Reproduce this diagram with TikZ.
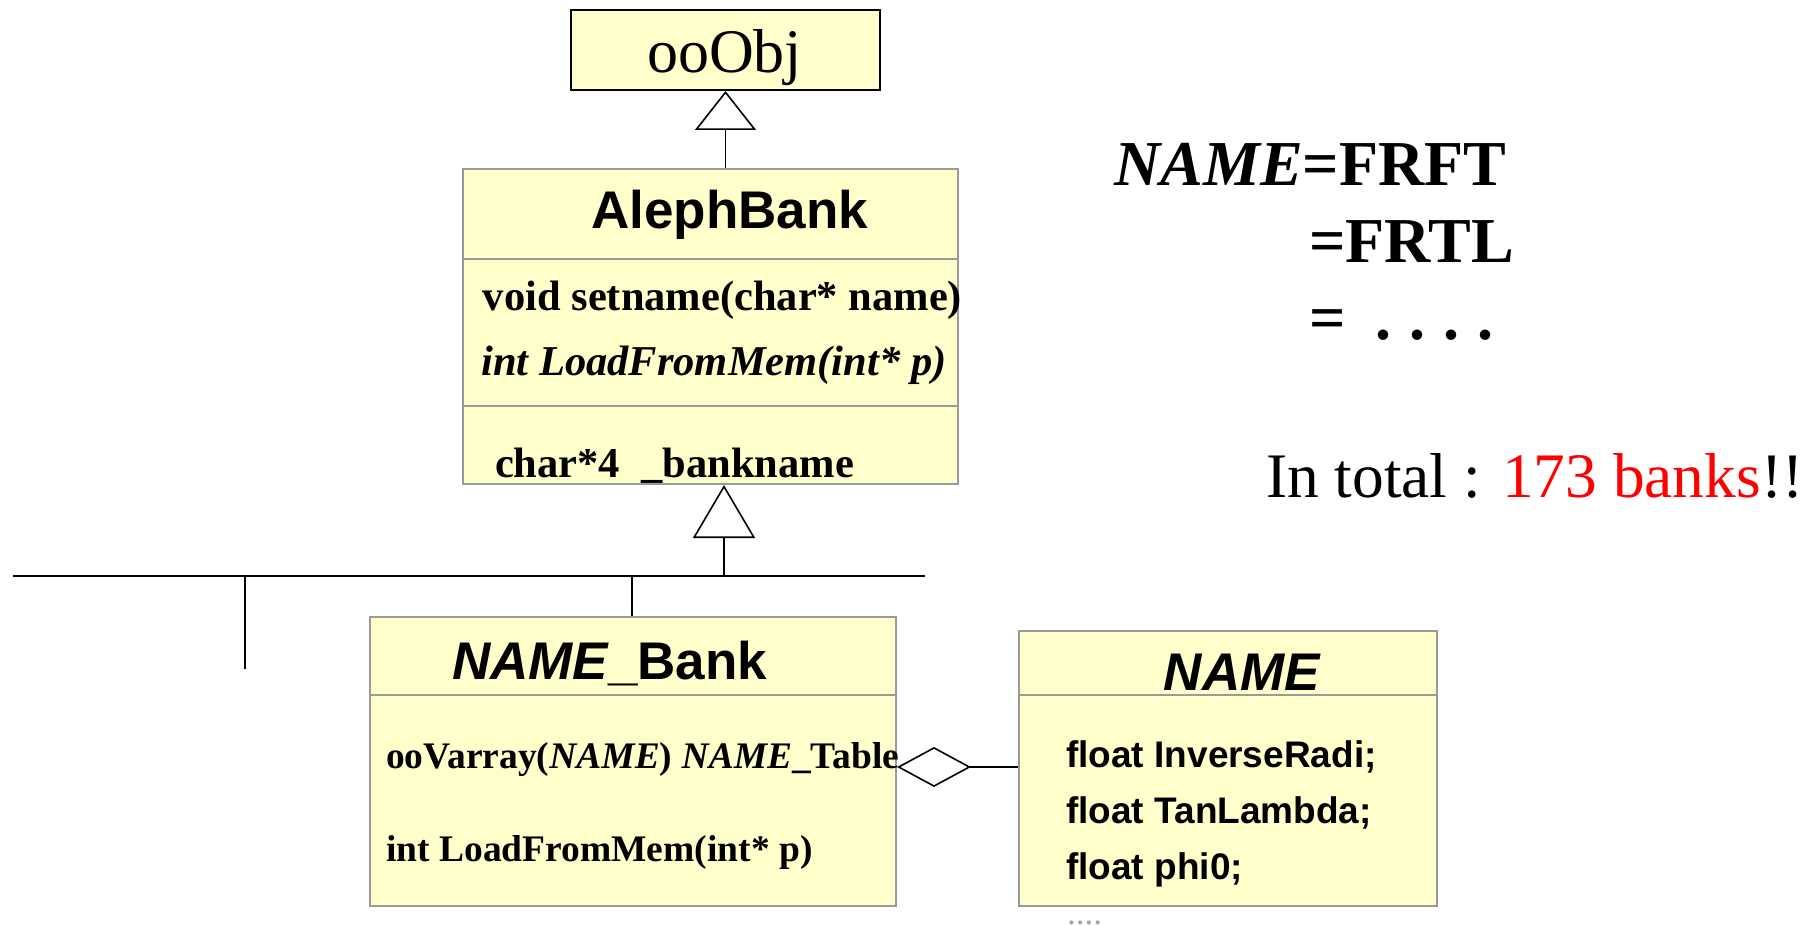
\documentclass[tikz,border=0pt]{standalone}
\usepackage{fontspec}
\setmainfont{Liberation Serif}
\setsansfont{Liberation Sans}
\usetikzlibrary{arrows.meta}
\definecolor{boxfill}{HTML}{FFFFCC}
\definecolor{boxline}{HTML}{9A9A9A}
\begin{document}
\begin{tikzpicture}[x=1pt,y=-1pt,
  umlbox/.style={draw=boxline, fill=boxfill, line width=2pt, inner sep=0pt, anchor=north west},
  rootbox/.style={umlbox, draw=black},
  sep/.style={draw=boxline, line width=2pt},
  conn/.style={draw=black, line width=1.6pt},
  bus/.style={draw=black, line width=2.6pt},
  txt/.style={inner sep=0pt, anchor=base west},
  ctxt/.style={inner sep=0pt, anchor=base},
  big/.style={font=\fontsize{62}{70}\selectfont},
  title/.style={font=\sffamily\bfseries\fontsize{53}{60}\selectfont},
  member/.style={font=\bfseries\fontsize{42.5}{48}\selectfont},
  smember/.style={font=\bfseries\fontsize{37.5}{43}\selectfont},
  field/.style={font=\sffamily\bfseries\fontsize{37}{43}\selectfont},
  note/.style={font=\bfseries\fontsize{64}{72}\selectfont},
  total/.style={font=\fontsize{63.4}{72}\selectfont}]
\useasboundingbox (0,0) rectangle (1820,925);

% class boxes
\node[rootbox, minimum width=309pt, minimum height=80pt] (oo) at (570,9) {};
\node[umlbox, minimum width=495pt, minimum height=315pt] (ab) at (462,168) {};
\node[umlbox, minimum width=526pt, minimum height=289pt] (nb) at (369,616) {};
\node[umlbox, minimum width=418pt, minimum height=275pt] (nm) at (1018,630) {};

% compartment separators
\draw[sep] (ab.west |- 0,259) -- (ab.east |- 0,259);
\draw[sep] (ab.west |- 0,406) -- (ab.east |- 0,406);
\draw[sep] (nb.west |- 0,695) -- (nb.east |- 0,695);
\draw[sep] (nm.west |- 0,695) -- (nm.east |- 0,695);

% inheritance tree
\coordinate (busL) at (13,576);
\coordinate (busR) at (925,576);
\coordinate (up) at (724,576);
\coordinate (down) at (632,576);
\coordinate (other) at (245,576);
\coordinate (otherEnd) at (245,669);
\draw[bus] (busL) -- (busR);
\draw[conn] (other) -- (otherEnd);
\draw[conn] (down) -- (down |- nb.north);
\draw[conn, -{Triangle[fill=white, length=53pt, width=62pt]}] (up) -- (up |- ab.south);
\draw[conn, -{Triangle[fill=white, length=39pt, width=61pt]}] (oo.south |- ab.north) -- (oo.south);

% aggregation
\coordinate (aggy) at (0,767);
\draw[conn, {Diamond[fill=white, length=74pt, width=40pt]}-] (nb.east |- aggy) -- (nm.west |- aggy);

% class texts
\node[ctxt, big] (ooT) at (724.5,73) {ooObj};
\node[ctxt, title] (abT) at (729.6,229) {AlephBank};
\node[txt, member] (abM1) at (482.7,310) {void setname(char* name)};
\node[txt, member] (abM2) at (481,375) {\itshape int LoadFromMem(int* p)};
\node[txt, member] (abF1) at (494.8,477) {char*4\ \ \_bankname};

\node[txt, title] (nbT) at (452,679) {\itshape NAME\upshape\_Bank};
\node[txt, smember] (nbM1) at (386,768) {ooVarray(\textit{NAME}) \textit{NAME}\_Table};
\node[txt, smember] (nbM2) at (386,861) {int LoadFromMem(int* p)};

\node[ctxt, title] (nmT) at (1242,690) {\itshape NAME};
\node[txt, field] (nmF1) at (1066,767) {float InverseRadi;};
\node[txt, field] (nmF2) at (1066,823) {float TanLambda;};
\node[txt, field] (nmF3) at (1066,879) {float phi0;};
\node[txt, font=\fontsize{35}{40}\selectfont, text=gray!70] (nmMore) at (1067,924) {....};

% side notes
\node[txt, note] (n1) at (1114,186) {\textit{NAME}=FRFT};
\node[txt, note] (n2) at (1309,263) {=FRTL};
\node[txt, note] (n3) at (1309,339) {=\hspace{30pt}.\hspace{18pt}.\hspace{18pt}.\hspace{18pt}.};
\node[txt, total] (n4) at (1266,497) {In total : \textcolor{red}{173 banks}!!};
\end{tikzpicture}
\end{document}
